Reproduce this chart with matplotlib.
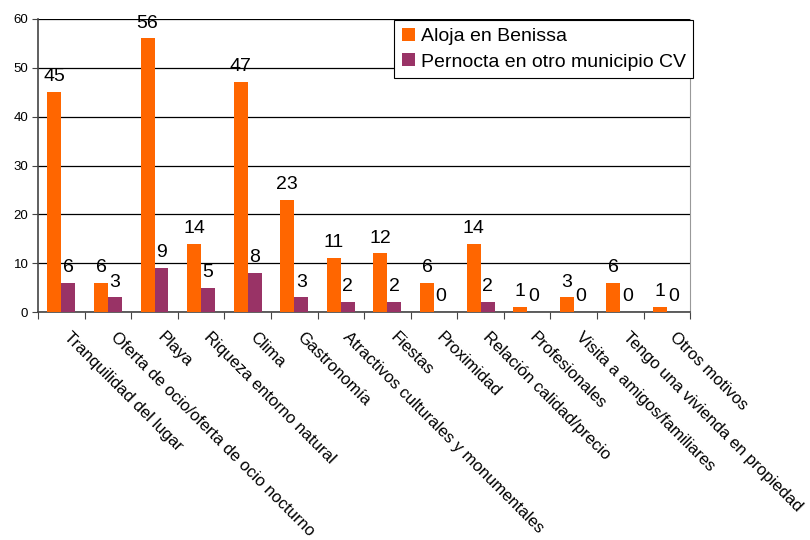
import numpy as np
import matplotlib.pyplot as plt

plt.rcParams['font.family'] = ['Liberation Sans', 'DejaVu Sans']

categories = ["Tranquilidad del lugar", "Oferta de ocio/oferta de ocio nocturno", "Playa",
              "Riqueza entorno natural", "Clima", "Gastronomía",
              "Atractivos culturales y monumentales", "Fiestas", "Proximidad",
              "Relación calidad/precio", "Profesionales", "Visita a amigos/familiares",
              "Tengo una vivienda en propiedad", "Otros motivos"]
aloja = [45, 6, 56, 14, 47, 23, 11, 12, 6, 14, 1, 3, 6, 1]
pernocta = [6, 3, 9, 5, 8, 3, 2, 2, 0, 2, 0, 0, 0, 0]

orange = '#FF6600'
purple = '#993366'

fig = plt.figure(figsize=(8.1, 5.4), dpi=100)
ax = fig.add_axes([0.047, 0.422, 0.805, 0.543])

x = np.arange(len(categories))
w = 0.3
b1 = ax.bar(x - w / 2, aloja, w, color=orange, label='Aloja en Benissa', zorder=3)
b2 = ax.bar(x + w / 2, pernocta, w, color=purple, label='Pernocta en otro municipio CV', zorder=3)

for bars, vals in ((b1, aloja), (b2, pernocta)):
    for r, v in zip(bars, vals):
        ax.annotate(str(v), (r.get_x() + r.get_width() / 2, v), xytext=(0, 5),
                    textcoords='offset points', ha='center', va='bottom', fontsize=14)

ax.set_xlim(-0.5, len(categories) - 0.5)
ax.set_ylim(0, 60)
ax.set_yticks(range(0, 61, 10))
ax.yaxis.grid(True, color='black', linewidth=0.9, zorder=0)
ax.tick_params(axis='y', labelsize=9.5, length=4, color='#444444', pad=3)

ax.set_xticks(np.arange(len(categories) + 1) - 0.5)
ax.set_xticklabels([])
ax.tick_params(axis='x', length=5, color='#444444')
for i, c in enumerate(categories):
    ax.text(i + 0.22, -3.6, c, rotation=-45, ha='left', va='top',
            rotation_mode='anchor', fontsize=12)

ax.spines['top'].set_visible(False)
ax.spines['right'].set_color('#999999')
ax.spines['left'].set_color('#444444')
ax.spines['bottom'].set_color('#444444')
ax.spines['left'].set_linewidth(1.2)
ax.spines['bottom'].set_linewidth(1.2)

leg = ax.legend(loc='upper right', bbox_to_anchor=(1.005, 0.995), fontsize=14,
                frameon=True, fancybox=False, edgecolor='black', framealpha=1,
                handlelength=0.65, handleheight=0.65, handletextpad=0.3,
                borderpad=0.4, labelspacing=0.4, borderaxespad=0.0)
leg.get_frame().set_linewidth(0.8)

fig.savefig('out.png', dpi=100)
